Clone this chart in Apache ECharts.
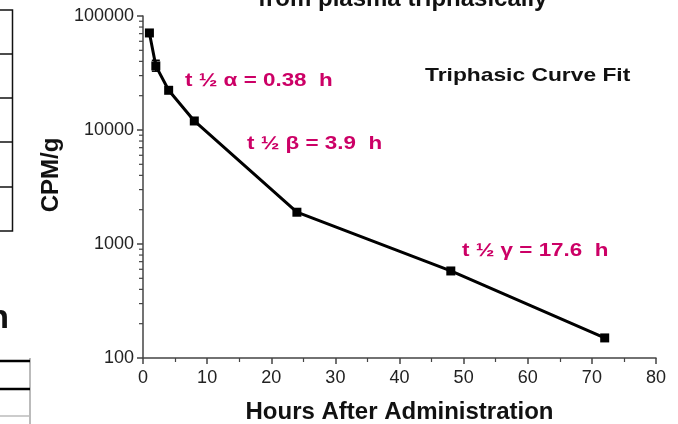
<!DOCTYPE html>
<html>
<head>
<meta charset="utf-8">
<script src="https://cdn.jsdelivr.net/npm/echarts@6/dist/echarts.min.js"></script>
<style>
  html, body { margin: 0; padding: 0; background: #fff; }
  #main { width: 678px; height: 424px; }
</style>
</head>
<body>
<div id="main"></div>
<script>
// hours after administration and CPM/g
var hours = [1, 2, 4, 8, 24, 48, 72];
var cpm = [71000, 36500, 22300, 12000, 1900, 580, 150];
// error bar on the 2 h point
var errHour = [2];
var errLow = [32800];
var errHigh = [40900];
var yTicks = [100, 1000, 10000, 100000];
var yMinorTicks = [200, 300, 400, 500, 600, 700, 800, 900,
                   2000, 3000, 4000, 5000, 6000, 7000, 8000, 9000,
                   20000, 30000, 40000, 50000, 60000, 70000, 80000, 90000];
var xTicks = [0, 10, 20, 30, 40, 50, 60, 70, 80];

var magenta = '#cc0066';
var font = '"Liberation Sans", Arial, sans-serif';

var myChart = echarts.init(document.getElementById('main'));

var lineData = hours.map(function (h, i) { return [h, cpm[i]]; });
var errData = errHour.map(function (h, i) { return [h, errLow[i], errHigh[i]]; });

option = {
    animation: false,
    backgroundColor: '#fff',
    textStyle: { fontFamily: font },
    grid: {
        left: 143,
        right: 22,
        top: 16,
        bottom: 66,
        outerBoundsMode: 'none'
    },
    xAxis: {
        type: 'value',
        min: xTicks[0],
        max: xTicks[xTicks.length - 1],
        interval: 10,
        name: 'Hours After Administration',
        nameLocation: 'middle',
        nameGap: 42,
        nameTextStyle: { fontSize: 24, fontWeight: 'bold', color: '#111' },
        axisLine: { lineStyle: { color: '#444', width: 1.5 } },
        axisTick: { length: 6, lineStyle: { color: '#444', width: 1.5 } },
        minorTick: { show: true, splitNumber: 2, length: 4, lineStyle: { color: '#444', width: 1.2 } },
        axisLabel: { fontSize: 18, color: '#222', margin: 11 },
        splitLine: { show: false }
    },
    yAxis: {
        type: 'log',
        logBase: 10,
        min: yTicks[0],
        max: yTicks[yTicks.length - 1],
        name: 'CPM/g',
        nameLocation: 'middle',
        nameRotate: 90,
        nameGap: 80,
        nameTextStyle: { fontSize: 24, fontWeight: 'bold', color: '#111', padding: [0, 0, 0, 24] },
        axisLine: { show: true, lineStyle: { color: '#444', width: 1.5 } },
        axisTick: { show: true, length: 6, lineStyle: { color: '#444', width: 1.5 } },
        axisLabel: {
            fontSize: 18,
            color: '#222',
            margin: 9,
            formatter: function (v) { return String(Math.round(v)); }
        },
        splitLine: { show: false }
    },
    series: [
        {
            // minor ticks of the log axis (2..9 in each decade)
            type: 'custom',
            silent: true,
            clip: false,
            data: yMinorTicks.map(function (v) { return [0, v]; }),
            renderItem: function (params, api) {
                var p = api.coord([api.value(0), api.value(1)]);
                return {
                    type: 'line',
                    shape: { x1: p[0] - 4, y1: p[1], x2: p[0], y2: p[1] },
                    style: { stroke: '#444', lineWidth: 1.2 }
                };
            },
            z: 1
        },
        {
            type: 'line',
            data: lineData,
            symbol: 'rect',
            symbolSize: 9,
            itemStyle: { color: '#000' },
            lineStyle: { color: '#000', width: 3 },
            z: 3
        },
        {
            type: 'custom',
            silent: true,
            data: errData,
            renderItem: function (params, api) {
                var lo = api.coord([api.value(0), api.value(1)]);
                var hi = api.coord([api.value(0), api.value(2)]);
                return {
                    type: 'group',
                    children: [
                        { type: 'line', shape: { x1: lo[0], y1: lo[1], x2: hi[0], y2: hi[1] }, style: { stroke: '#000', lineWidth: 1.5 } },
                        { type: 'line', shape: { x1: lo[0] - 4, y1: lo[1], x2: lo[0] + 4, y2: lo[1] }, style: { stroke: '#000', lineWidth: 1.5 } },
                        { type: 'line', shape: { x1: hi[0] - 4, y1: hi[1], x2: hi[0] + 4, y2: hi[1] }, style: { stroke: '#000', lineWidth: 1.5 } }
                    ]
                };
            },
            z: 2
        }
    ],
    graphic: [
        // slide title, cut off by the top edge
        { type: 'text', x: 258, y: -1, style: { text: 'from plasma triphasically', font: 'bold 24px ' + font, fill: '#111', verticalAlign: 'middle' } },
        // annotations (the slide text is a little stretched sideways)
        { type: 'text', x: 185, y: 81, scaleX: 1.18, style: { text: 't \u00bd \u03b1 = 0.38  h', font: 'bold 19px ' + font, fill: magenta, verticalAlign: 'middle' } },
        { type: 'text', x: 247, y: 144, scaleX: 1.18, style: { text: 't \u00bd \u03b2 = 3.9  h', font: 'bold 19px ' + font, fill: magenta, verticalAlign: 'middle' } },
        { type: 'text', x: 462, y: 251, scaleX: 1.18, style: { text: 't \u00bd \u03b3 = 17.6  h', font: 'bold 19px ' + font, fill: magenta, verticalAlign: 'middle' } },
        { type: 'text', x: 425, y: 76, scaleX: 1.2, style: { text: 'Triphasic Curve Fit', font: 'bold 19px ' + font, fill: '#111', verticalAlign: 'middle' } },
        // neighbouring table on the slide, cut off at the left
        { type: 'polyline', shape: { points: [[0, 10], [12.5, 10], [12.5, 231], [0, 231]] }, style: { stroke: '#111', lineWidth: 1.5, fill: null } },
        { type: 'line', shape: { x1: 0, y1: 54, x2: 12.5, y2: 54 }, style: { stroke: '#111', lineWidth: 1.5 } },
        { type: 'line', shape: { x1: 0, y1: 98, x2: 12.5, y2: 98 }, style: { stroke: '#111', lineWidth: 1.5 } },
        { type: 'line', shape: { x1: 0, y1: 142, x2: 12.5, y2: 142 }, style: { stroke: '#111', lineWidth: 1.5 } },
        { type: 'line', shape: { x1: 0, y1: 187, x2: 12.5, y2: 187 }, style: { stroke: '#111', lineWidth: 1.5 } },
        { type: 'text', x: 9, y: 336, style: { text: 'h', font: 'bold 34px ' + font, fill: '#111', align: 'right', verticalAlign: 'bottom' } },
        { type: 'line', shape: { x1: 30, y1: 358, x2: 30, y2: 424 }, style: { stroke: '#bbb', lineWidth: 2 } },
        { type: 'line', shape: { x1: 0, y1: 361, x2: 30, y2: 361 }, style: { stroke: '#000', lineWidth: 2.5 } },
        { type: 'line', shape: { x1: 0, y1: 389, x2: 30, y2: 389 }, style: { stroke: '#000', lineWidth: 2.5 } },
        { type: 'line', shape: { x1: 0, y1: 416, x2: 30, y2: 416 }, style: { stroke: '#bbb', lineWidth: 1.5 } }
    ]
};

myChart.setOption(option);
</script>
</body>
</html>
